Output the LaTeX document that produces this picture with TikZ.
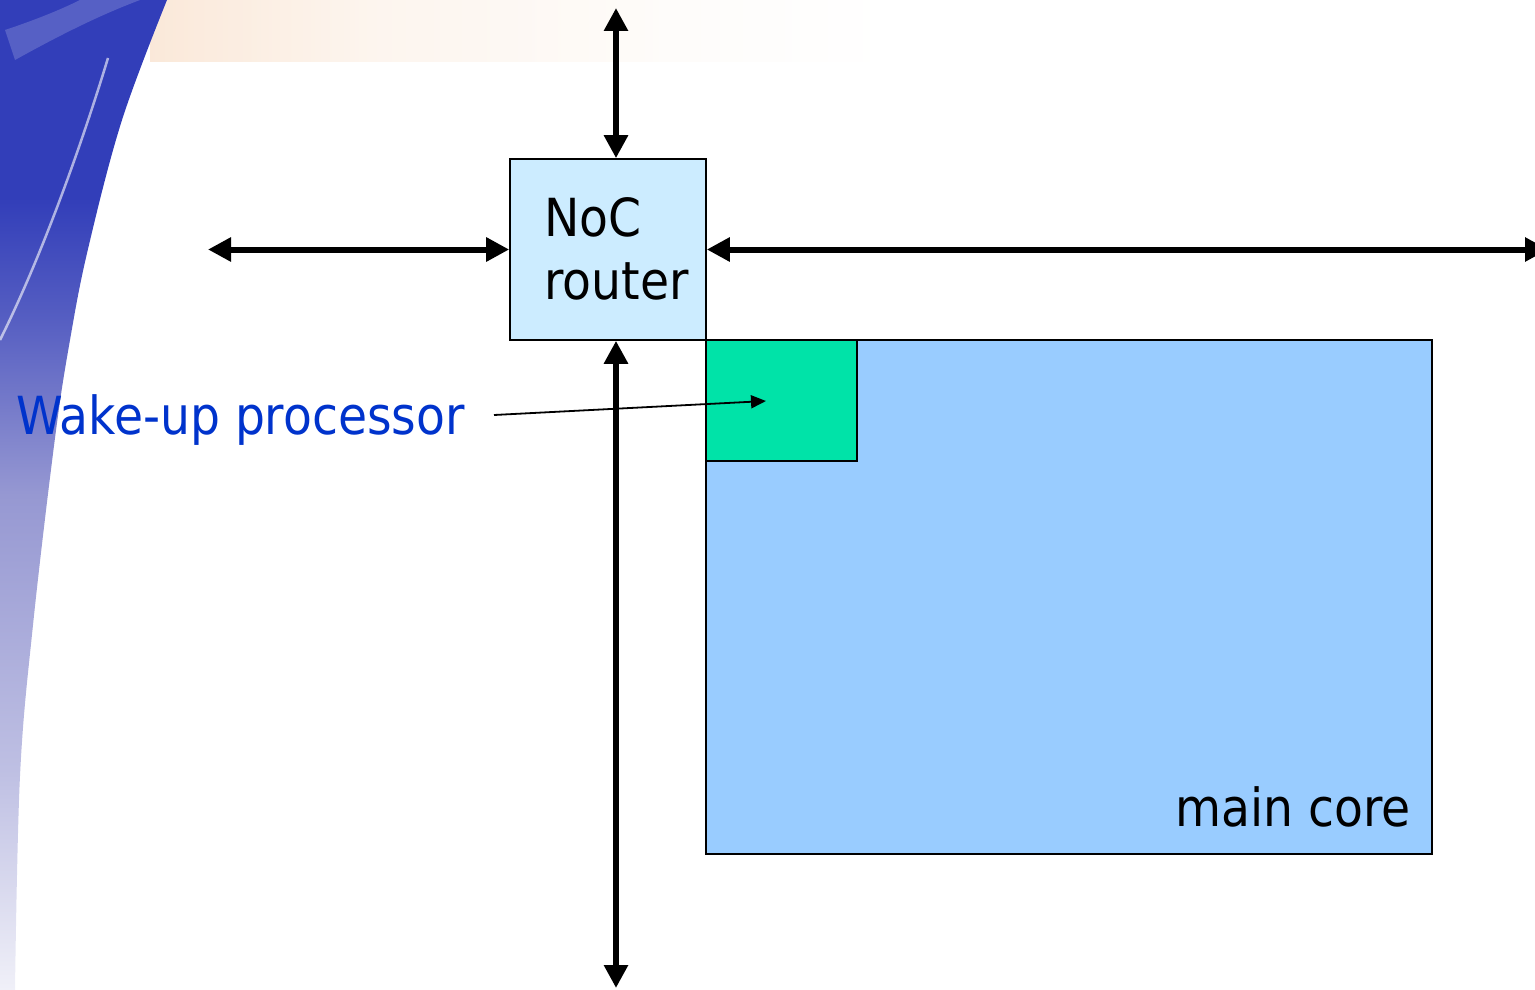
\documentclass[tikz,border=0pt]{standalone}
\usepackage{fontspec}
\setmainfont{DejaVu Sans Condensed}
\usetikzlibrary{arrows.meta,calc}

\definecolor{routerfill}{RGB}{204,236,255}
\definecolor{corefill}{RGB}{153,204,255}
\definecolor{wakefill}{RGB}{0,227,168}
\definecolor{labelblue}{RGB}{0,51,204}
\definecolor{swooshtop}{RGB}{50,62,185}
\definecolor{swooshmid}{RGB}{150,152,210}
\definecolor{swooshlow}{RGB}{240,240,248}
\definecolor{peach}{RGB}{246,214,186}

% backdrop gradient, dark at the top and fading out downwards
% (the path's bounding box spans 25bp..75bp of the shading)
\pgfdeclareverticalshading{swooshfade}{100bp}{%
  color(0bp)=(swooshlow); color(25bp)=(swooshlow);
  color(36bp)=(swooshmid!55!swooshlow);
  color(50bp)=(swooshmid); color(59bp)=(swooshtop!65!swooshmid);
  color(65bp)=(swooshtop); color(100bp)=(swooshtop)}

% warm glow along the top edge, strongest at its left end
\pgfdeclarehorizontalshading{warmglow}{100bp}{%
  color(0bp)=(peach); color(25bp)=(peach);
  color(40bp)=(peach!45!white); color(60bp)=(peach!15!white);
  color(75bp)=(white); color(100bp)=(white)}

\tikzset{
  block/.style={draw=black, line width=1.6pt, inner sep=0pt},
  bigtext/.style={font=\fontsize{52.5}{63}\selectfont, inner sep=0pt},
  link/.style={line width=6pt, {Triangle[length=23pt,width=23pt]}-{Triangle[length=23pt,width=23pt]}},
  pointer/.style={line width=1.8pt, -{Triangle[length=15pt,width=13pt]}}
}

\begin{document}
\begin{tikzpicture}[x=1pt,y=-1pt]
\useasboundingbox (0,0) rectangle (1535,990);

% slide backdrop: faint warm glow along the top and blue swoosh on the left
\shade[shading=warmglow, opacity=0.55] (150,0) rectangle (880,62);
\shade[shading=swooshfade]
  (0,0) -- plot[smooth, tension=0.6] coordinates
  {(167,0) (122,120) (88,249) (70,340) (55,438) (33,625) (20,776) (15,990)}
  -- (0,990) -- cycle;
\fill[white, opacity=0.18] (15,60) .. controls (60,35) and (100,15) .. (140,0)
  -- (80,0) .. controls (60,10) and (35,20) .. (5,30) -- cycle;
\draw[white, opacity=0.6, line width=2.5pt]
  (108,58) .. controls (80,150) and (40,260) .. (0,340);

% blocks
\node[block, fill=routerfill, minimum width=196pt, minimum height=181pt] (router) at (608,249.5) {};
\node[block, fill=corefill, minimum width=726pt, minimum height=514pt] (core) at (1069,597) {};
\node[block, fill=wakefill, minimum width=151pt, minimum height=121pt] (wake) at (781.5,400.5) {};

% block captions
\node[bigtext, anchor=base west] (noc) at ($(router.north west)+(35,78)$) {NoC};
\node[bigtext, anchor=base west] (rtr) at ($(router.north west)+(35,141)$) {router};
\node[bigtext, anchor=base east] (corelbl) at ($(core.south east)+(-22,-28)$) {main core};
\node[bigtext, anchor=base west, text=labelblue] (wakelbl) at (16,434) {Wake-up processor};

% network links
\coordinate (north) at (616,8);
\coordinate (south) at (616,988);
\coordinate (west) at (208,249.5);
\coordinate (east) at (1548,249.5);
\draw[link] (north) -- (router.north -| north);
\draw[link] (router.south -| south) -- (south);
\draw[link] (west) -- (router.west);
\draw[link] (router.east) -- (east);

% caption pointer
\coordinate (ptrfrom) at (494,415);
\coordinate (ptrto) at (766,401);
\draw[pointer] (ptrfrom) -- (ptrto);
\end{tikzpicture}
\end{document}
